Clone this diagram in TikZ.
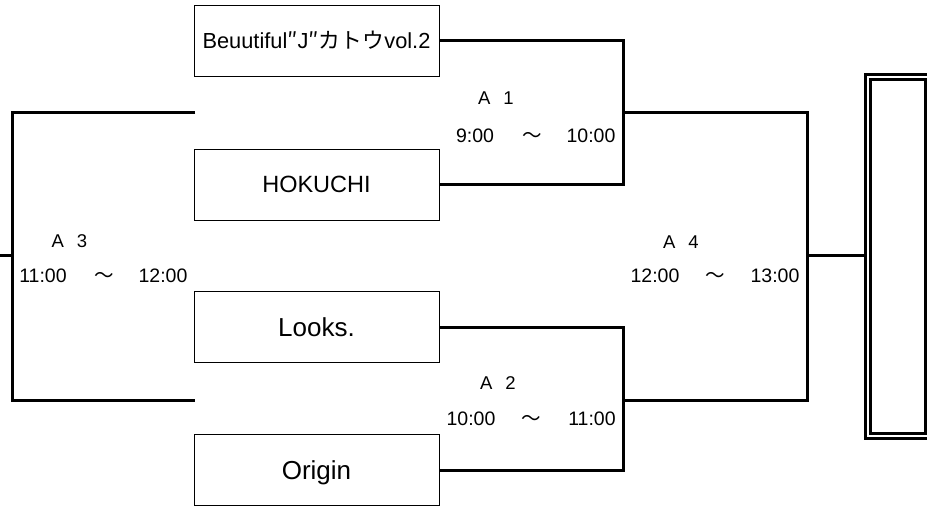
\documentclass[tikz,border=0pt]{standalone}
\usepackage{fontspec}
\setmainfont{Liberation Sans}
\newfontfamily\cjk{Noto Sans CJK JP}
\newcommand\capbox[1]{\raisebox{0pt}[0.716em][0pt]{#1}}
\newcommand\fsz[1]{\fontsize{#1}{#1}\selectfont}
\begin{document}
\begin{tikzpicture}[x=1pt,y=-1pt,
  namebox/.style={draw, line width=1pt, minimum width=245pt, minimum height=71pt, inner sep=0pt},
  bracket/.style={draw, line width=3pt, line join=miter},
  timetext/.style={inner sep=0pt, anchor=base, font=\fsz{19.5pt}},
  roundtext/.style={inner sep=0pt, anchor=base, font=\fsz{18.5pt}},
  finalbox/.style={draw, line width=3pt, double, double distance=2pt, minimum width=60pt, minimum height=358.5pt, inner sep=0pt}
]
\useasboundingbox (0,0) rectangle (927,511);

% team boxes
\node[namebox, font=\fsz{21.8pt}] (b1) at (316.5,41) {\capbox{Beuutiful{\cjk ″}J{\cjk ″カトウ}vol.2}};
\node[namebox, font=\fsz{23.5pt}] (b2) at (316.5,184.5) {\capbox{HOKUCHI}};
\node[namebox, font=\fsz{26pt}] (b3) at (316.5,327) {\capbox{Looks.}};
\node[namebox, font=\fsz{26pt}] (b4) at (316.5,470) {\capbox{Origin}};

% junctions
\coordinate (j1) at (623,112);
\coordinate (j2) at (623,400);
\coordinate (j4) at (807,255);
\coordinate (l1) at (195,112);
\coordinate (l2) at (195,400);
\coordinate (j3) at (12,255);
\coordinate (e3) at (0,255);

% final box
\node[finalbox] (f) at (897.5,256.25) {};

% brackets
\draw[bracket] (b1.east) -| (j1) |- (b2.east);
\draw[bracket] (b3.east) -| (j2) |- (b4.east);
\draw[bracket] (j1) -| (j4) |- (j2);
\draw[bracket] (j4) -- (j4 -| f.west);
\draw[bracket] (l1) -| (j3) |- (l2);
\draw[bracket] (j3) -- (e3);

% A1
\node[roundtext] (r1) at (496,105) {A\hspace{0.7em}1};
\node[timetext] (s1) at (475,142) {9:00};
\node[timetext] (w1) at (532,142) {\cjk ～};
\node[timetext] (u1) at (591,142) {10:00};
% A2
\node[roundtext] (r2) at (498,389) {A\hspace{0.7em}2};
\node[timetext] (s2) at (471,425) {10:00};
\node[timetext] (w2) at (531,425) {\cjk ～};
\node[timetext] (u2) at (592,425) {11:00};
% A3
\node[roundtext] (r3) at (69.5,247) {A\hspace{0.7em}3};
\node[timetext] (s3) at (43,282) {11:00};
\node[timetext] (w3) at (104,282) {\cjk ～};
\node[timetext] (u3) at (163,282) {12:00};
% A4
\node[roundtext] (r4) at (681,248) {A\hspace{0.7em}4};
\node[timetext] (s4) at (655,282) {12:00};
\node[timetext] (w4) at (715.5,282) {\cjk ～};
\node[timetext] (u4) at (775,282) {13:00};
\end{tikzpicture}
\end{document}
